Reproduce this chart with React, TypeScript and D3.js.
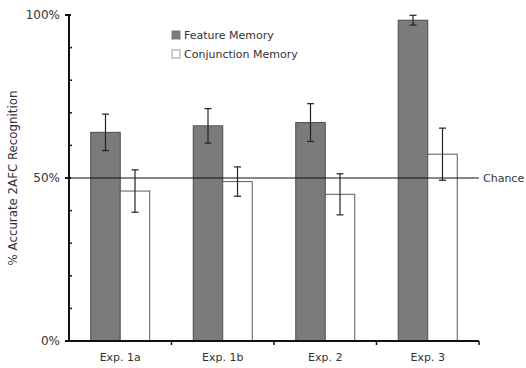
import React from 'react';
import * as d3 from 'd3';

const experiments = ['Exp. 1a', 'Exp. 1b', 'Exp. 2', 'Exp. 3'];
const featureMean = [64.0, 66.0, 67.0, 98.4];
const featureErr = [5.6, 5.3, 5.8, 1.5];
const conjunctionMean = [46.0, 48.9, 45.0, 57.3];
const conjunctionErr = [6.5, 4.5, 6.3, 8.0];
const majorTicks = [0, 50, 100];
const minorTicks = [10, 20, 30, 40, 60, 70, 80, 90];
const chanceLevel = 50;

const W = 526;
const H = 368;
const margin = { top: 15, right: 47, bottom: 27, left: 69 };
const font = '"DejaVu Sans", Verdana, sans-serif';

export default function App() {
  const innerW = W - margin.left - margin.right;
  const innerH = H - margin.top - margin.bottom;

  const x = d3.scaleBand().domain(experiments).range([0, innerW]);
  const y = d3.scaleLinear().domain([0, 100]).range([innerH, 0]);
  const barW = 29.5;

  const series = [
    { name: 'Feature Memory', mean: featureMean, err: featureErr, fill: '#7b7b7b', stroke: '#4a4a4a', offset: -barW },
    { name: 'Conjunction Memory', mean: conjunctionMean, err: conjunctionErr, fill: '#ffffff', stroke: '#5a5a5a', offset: 0 },
  ];

  return (
    <svg width={W} height={H} style={{ position: 'absolute', left: 0, top: 0, background: '#fff' }}>
      <g transform={`translate(${margin.left},${margin.top})`} fontFamily={font} fill="#333">
        {/* bars */}
        {series.map((s) =>
          experiments.map((e, i) => {
            const cx = (x(e) as number) + x.bandwidth() / 2 + s.offset;
            return (
              <rect
                key={s.name + e}
                x={cx}
                y={y(s.mean[i])}
                width={barW}
                height={innerH - y(s.mean[i])}
                fill={s.fill}
                stroke={s.stroke}
                strokeWidth={1}
              />
            );
          })
        )}

        {/* chance line */}
        <line x1={0} x2={innerW} y1={y(chanceLevel)} y2={y(chanceLevel)} stroke="#111" strokeWidth={1} />
        <text x={innerW + 4} y={y(chanceLevel)} dy="0.35em" fontSize={11} fill="#333">Chance</text>

        {/* error bars */}
        {series.map((s) =>
          experiments.map((e, i) => {
            const cx = (x(e) as number) + x.bandwidth() / 2 + s.offset + barW / 2;
            const hi = y(s.mean[i] + s.err[i]);
            const lo = y(s.mean[i] - s.err[i]);
            return (
              <g key={'err' + s.name + e} stroke="#222" strokeWidth={1.2}>
                <line x1={cx} x2={cx} y1={hi} y2={lo} />
                <line x1={cx - 3.5} x2={cx + 3.5} y1={hi} y2={hi} />
                <line x1={cx - 3.5} x2={cx + 3.5} y1={lo} y2={lo} />
              </g>
            );
          })
        )}

        {/* y axis */}
        <line x1={0} x2={0} y1={0} y2={innerH} stroke="#111" strokeWidth={2} />
        {majorTicks.map((t) => (
          <g key={'maj' + t}>
            <line x1={-4} x2={2} y1={y(t)} y2={y(t)} stroke="#111" strokeWidth={2} />
            <text x={-9} y={y(t)} dy="0.35em" textAnchor="end" fontSize={12}>{t}%</text>
          </g>
        ))}
        {minorTicks.map((t) => (
          <line key={'min' + t} x1={0} x2={3} y1={y(t)} y2={y(t)} stroke="#111" strokeWidth={1.5} />
        ))}

        {/* x axis */}
        <line x1={0} x2={innerW} y1={innerH} y2={innerH} stroke="#111" strokeWidth={2} />
        {experiments.map((e) => (
          <g key={'xt' + e}>
            <line
              x1={(x(e) as number) + x.bandwidth()}
              x2={(x(e) as number) + x.bandwidth()}
              y1={innerH}
              y2={innerH + 4}
              stroke="#111"
              strokeWidth={1.5}
            />
            <text x={(x(e) as number) + x.bandwidth() / 2} y={innerH + 20} textAnchor="middle" fontSize={11}>
              {e}
            </text>
          </g>
        ))}

        {/* y label */}
        <text
          transform={`translate(${-52},${innerH / 2}) rotate(-90)`}
          textAnchor="middle"
          fontSize={11.8}
        >
          % Accurate 2AFC Recognition
        </text>

        {/* legend */}
        {series.map((s, i) => (
          <g key={'leg' + s.name} transform={`translate(${103},${16 + i * 19})`}>
            <rect x={0} y={0} width={8} height={8} fill={s.fill} stroke={i === 0 ? s.fill : '#999'} strokeWidth={1} />
            <text x={12} y={8} fontSize={11}>{s.name}</text>
          </g>
        ))}
      </g>
    </svg>
  );
}
